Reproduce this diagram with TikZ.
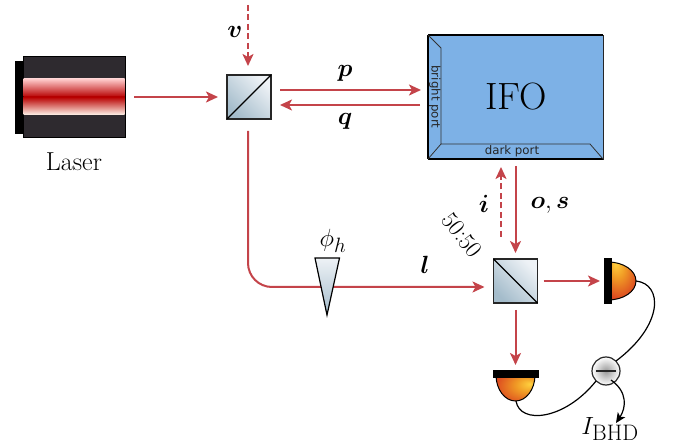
\documentclass[tikz,border=0pt]{standalone}
\usepackage{amsmath}
\usepackage{fontspec}
\newfontfamily\portfont{DejaVu Sans}
\usetikzlibrary{arrows.meta,calc}
\definecolor{beamred}{HTML}{C4444A}
\definecolor{ifoblue}{HTML}{7DB1E6}
\definecolor{laserdark}{HTML}{2E2A2F}
\definecolor{bsdark}{HTML}{A4BCCB}
\definecolor{bslight}{HTML}{EEF2F6}
\definecolor{domeA}{HTML}{FFD23F}
\definecolor{domeB}{HTML}{F09A25}
\definecolor{domeC}{HTML}{DC4A20}
\definecolor{domeD}{HTML}{B5161A}
\pgfdeclareradialshading{domeright}{\pgfpoint{-12bp}{24bp}}{color(0bp)=(domeA); color(14bp)=(domeB); color(32bp)=(domeC); color(52bp)=(domeD)}
\pgfdeclareradialshading{domedown}{\pgfpoint{19bp}{8bp}}{color(0bp)=(domeA); color(14bp)=(domeB); color(34bp)=(domeC); color(58bp)=(domeD)}
\tikzset{
 beam/.style={draw=beamred,line width=2pt,-{Stealth[length=12pt,width=11pt,inset=3pt]}},
 dbeam/.style={beam,dash pattern=on 6pt off 3.5pt},
 bsbox/.style={draw=black!85,line width=1.2pt,minimum size=44pt,inner sep=0pt,outer sep=0pt,shade,bottom color=bsdark,top color=bslight,shading angle=-45},
 plate/.style={fill=black,draw=black,inner sep=0pt,outer sep=0pt},
 dome/.style={draw=black,line width=1pt},
 wire/.style={draw=black,line width=1.2pt},
 lab/.style={inner sep=0pt,outer sep=0pt,font=\fontsize{28}{32}\selectfont},
 portlab/.style={inner sep=0pt,outer sep=0pt,text=black!85,font=\portfont\fontsize{11.8}{14}\selectfont},
}
\begin{document}
\begin{tikzpicture}[x=1pt,y=-1pt]
\useasboundingbox (0,0) rectangle (673,446);
% laser
\node[plate,minimum width=8pt,minimum height=72pt] (lback) at (19,97) {};
\node[draw=black,fill=laserdark,line width=.6pt,minimum width=102pt,minimum height=81pt,inner sep=0pt,outer sep=0pt] (laser) at (74,96.5) {};
\node[inner sep=0pt,outer sep=0pt,minimum width=101pt,minimum height=18pt,shade,top color=white!80!red,bottom color=red!72!black] (lbeamtop) at (74,88) {};
\node[inner sep=0pt,outer sep=0pt,minimum width=101pt,minimum height=18pt,shade,top color=red!72!black,bottom color=white!92!orange] (lbeambot) at (74,106) {};
\node[lab,font=\fontsize{26}{30}\selectfont] (lasertext) at (74,162) {Laser};
% interferometer
\node[draw=black!85,fill=ifoblue,line width=.8pt,minimum width=175pt,minimum height=124pt,inner sep=0pt,outer sep=0pt] (ifo) at (515.5,97) {};
\draw[black,line width=1.6pt] (ifo.north west) -- (ifo.north east);
\draw[black,line width=1.6pt] (ifo.south west) -- (ifo.south east);
\draw[black,line width=1.2pt] (ifo.north west) -- (ifo.south west);
\coordinate (ifoA) at (441,48);
\coordinate (ifoB) at (441,144);
\coordinate (ifoC) at (590,144);
\draw[black!80,line width=.8pt] (ifo.north west) -- (ifoA) -- (ifoB) -- (ifoC) -- (ifo.south east);
\draw[black!80,line width=.8pt] (ifoB) -- (ifo.south west);
\node[lab,font=\fontsize{38}{42}\selectfont] (ifotext) at (516,97) {IFO};
\node[portlab,rotate=-90] (bright) at (435,97) {bright port};
\node[portlab] (dark) at (512,151) {dark port};
% beam splitters
\node[bsbox] (bs1) at (249,97) {};
\draw[black,line width=1.2pt] (bs1.south west) -- (bs1.north east);
\node[bsbox] (bs2) at (515.5,281) {};
\draw[black,line width=1.2pt] (bs2.north west) -- (bs2.south east);
% detectors
\shade[dome,shading=domeright] (608,262) arc[start angle=-90,end angle=90,x radius=28pt,y radius=-19pt] -- cycle;
\node[plate,minimum width=7pt,minimum height=45pt] (det1) at (607.5,281) {};
\coordinate (w1) at (636,281);
\shade[dome,shading=domedown] (496,375) arc[start angle=180,end angle=0,x radius=19.5pt,y radius=-26pt] -- cycle;
\node[plate,minimum width=45pt,minimum height=7pt] (det2) at (515.5,373.5) {};
\coordinate (w2) at (516,401);
% subtractor
\node[circle,draw=black!85,line width=1.2pt,minimum size=28pt,inner sep=0pt,outer sep=0pt,shade,inner color=gray!80,outer color=white] (minus) at (606,371) {};
\draw[black!85,line width=1.2pt] ([xshift=-10pt]minus.center) -- ([xshift=10pt]minus.center);
\coordinate (ibhd) at (616,423);
\draw[wire] (w1) .. controls (663,284) and (664,325) .. (minus.north east);
\draw[wire] (w2) .. controls (520,425) and (565,420) .. (minus.south west);
\draw[wire,-{Stealth[length=10pt,width=9pt,inset=2.5pt]}] ([shift={(5pt,-9pt)}]minus.center) .. controls (628,392) and (626,408) .. (ibhd);
% beams
\coordinate (vtop) at (248,5);
\draw[dbeam] (vtop) -- ([shift={(-1pt,9pt)}]bs1.north);
\coordinate (laserout) at (134,97);
\draw[beam] (laserout) -- ([xshift=-9pt]bs1.west);
\draw[beam] ([shift={(9pt,7pt)}]bs1.east) -- ([shift={(-7pt,7pt)}]ifo.west);
\draw[beam] ([shift={(-8pt,-8pt)}]ifo.west) -- ([shift={(9pt,-8pt)}]bs1.east);
\coordinate (corner) at (248,287);
\draw[beam,rounded corners=24pt] ([shift={(-1pt,-12pt)}]bs1.south) -- (corner) -- ([shift={(-9pt,-6pt)}]bs2.west);
\draw[beam] ([yshift=-7pt]ifo.south -| bs2.north) -- ([yshift=6pt]bs2.north);
\draw[dbeam] ([xshift=-14.5pt]bs2.north |- 0,237) -- ([shift={(-14.5pt,-8pt)}]ifo.south -| bs2.north);
\draw[beam] ([xshift=6pt]bs2.east) -- ([xshift=-4pt]det1.west);
\draw[beam] ([yshift=-7pt]bs2.south) -- ([yshift=5pt]det2.north);
% wedge
\node[inner sep=0pt,outer sep=0pt,minimum size=0pt] (wedge) at (327,287) {};
\draw[black,line width=1.2pt,shade,top color=bslight,bottom color=bsdark] (315,258) -- (339.5,258) -- (327,315) -- cycle;
% labels
\node[lab] (vlab) at (235,32) {$\boldsymbol{v}$};
\node[lab] (plab) at (345,73) {$\boldsymbol{p}$};
\node[lab] (qlab) at (345,121) {$\boldsymbol{q}$};
\node[lab] (llab) at (425,265) {$\boldsymbol{l}$};
\node[lab] (philab) at (333,241) {$\phi_h$};
\node[lab] (ilab) at (484,204) {$\boldsymbol{i}$};
\node[lab] (oslab) at (550,205) {$\boldsymbol{o},\boldsymbol{s}$};
\node[lab,rotate=-52,font=\fontsize{24}{28}\selectfont] (fifty) at (462,235) {50:50};
\node[lab,font=\fontsize{32}{36}\selectfont] (ilabel) at (610,429) {$I_{\mathrm{BHD}}$};
\end{tikzpicture}
\end{document}
